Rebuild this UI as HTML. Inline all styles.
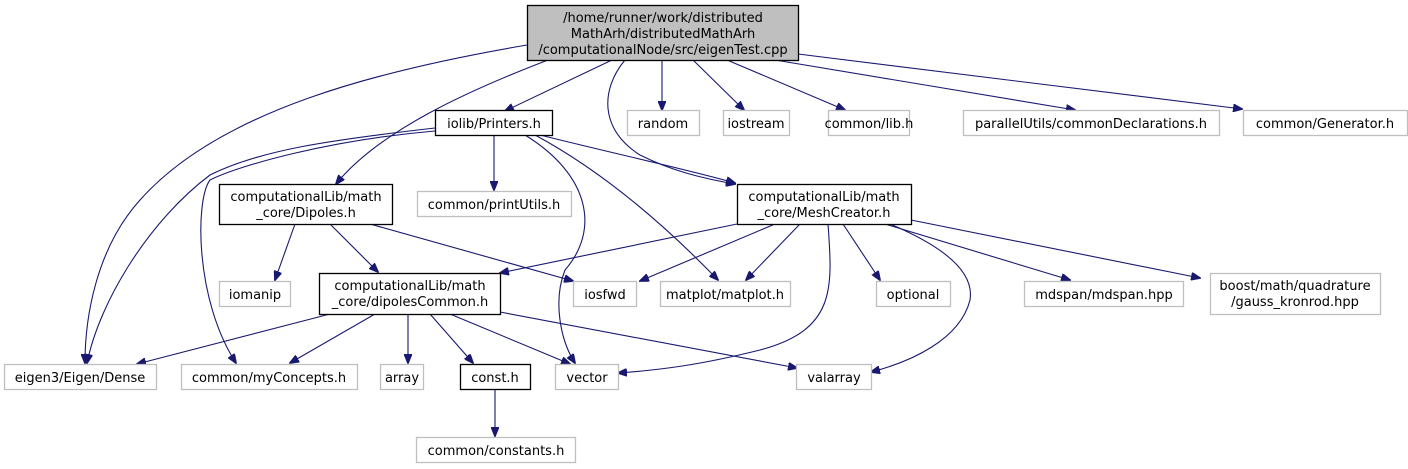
<!DOCTYPE html>
<html><head><meta charset="utf-8">
<style>
html,body{margin:0;padding:0;background:#fff;}
svg{display:block;}
text{font-family:"DejaVu Sans","Liberation Sans",sans-serif;font-size:13px;fill:#000;text-anchor:middle;}
.g{fill:#fff;stroke:#bfbfbf;stroke-width:1.3;}
.b{fill:#fff;stroke:#000;stroke-width:1.3;}
.e{fill:none;stroke:#191970;stroke-width:1.1;}
</style></head>
<body>
<svg width="1408" height="469" viewBox="0 0 1408 469" xmlns="http://www.w3.org/2000/svg">
<defs>
<marker id="a" markerWidth="10" markerHeight="8" refX="9" refY="4" orient="auto" markerUnits="userSpaceOnUse">
<path d="M0,0 L10,4 L0,8 Z" fill="#191970" stroke="#191970"/>
</marker>
</defs>
<g marker-end="url(#a)">
<path class="e" d="M527,45 C380,70 220,110 140,200 C95,250 85,320 85,363"/>
<path class="e" d="M548,60 C470,90 380,130 336,184"/>
<path class="e" d="M612,60 L505,111"/>
<path class="e" d="M625,60 C600,90 600,130 640,155 C670,170 700,178 735,184"/>
<path class="e" d="M662,60 L662,110"/>
<path class="e" d="M693,60 L744,110"/>
<path class="e" d="M727,60 L845,110"/>
<path class="e" d="M775,60 L1075,110"/>
<path class="e" d="M798,54 L1242,109"/>
<path class="e" d="M435,128 C330,140 260,150 210,175 C150,220 100,300 87,363"/>
<path class="e" d="M435,131 C330,140 240,165 210,180 C195,200 195,300 236,363"/>
<path class="e" d="M494,135 L494,190"/>
<path class="e" d="M525,135 C590,175 600,230 565,270 C553,300 560,340 575,363"/>
<path class="e" d="M535,135 C600,170 660,220 718,280"/>
<path class="e" d="M540,135 C620,155 690,170 735,183"/>
<path class="e" d="M295,224 L275,280"/>
<path class="e" d="M330,224 L378,272"/>
<path class="e" d="M370,224 L573,281"/>
<path class="e" d="M737,224 L500,273"/>
<path class="e" d="M775,224 L640,281"/>
<path class="e" d="M800,224 L746,280"/>
<path class="e" d="M828,224 C833,290 835,330 760,350 C700,365 660,370 618,373"/>
<path class="e" d="M843,224 L880,280"/>
<path class="e" d="M890,224 C940,245 975,270 970,300 C960,340 910,362 871,372"/>
<path class="e" d="M885,224 L1070,280"/>
<path class="e" d="M911,220 L1200,278"/>
<path class="e" d="M330,314 L137,364"/>
<path class="e" d="M375,314 L290,363"/>
<path class="e" d="M408,314 L408,363"/>
<path class="e" d="M430,314 L473,363"/>
<path class="e" d="M450,314 L570,364"/>
<path class="e" d="M500,312 L797,368"/>
<path class="e" d="M495,389 L495,436"/>
</g>
<rect x="527.5" y="5.5" width="271" height="55" fill="#bfbfbf" stroke="#000" stroke-width="1.3"/>
<text x="663" y="22">/home/runner/work/distributed</text>
<text x="663" y="38">MathArh/distributedMathArh</text>
<text x="663" y="54">/computationalNode/src/eigenTest.cpp</text>

<rect class="b" x="435.5" y="110.5" width="117" height="25"/><text x="494" y="128">iolib/Printers.h</text>
<rect class="g" x="627.5" y="110.5" width="72" height="25"/><text x="663" y="128">random</text>
<rect class="g" x="723.5" y="110.5" width="66" height="25"/><text x="756" y="128">iostream</text>
<rect class="g" x="828.5" y="110.5" width="81" height="25"/><text x="869" y="128">common/lib.h</text>
<rect class="g" x="963.5" y="110.5" width="256" height="25"/><text x="1091" y="128">parallelUtils/commonDeclarations.h</text>
<rect class="g" x="1243.5" y="110.5" width="164" height="25"/><text x="1325" y="128">common/Generator.h</text>

<rect class="b" x="219.5" y="184.5" width="173" height="40"/><text x="306" y="201">computationalLib/math</text><text x="306" y="217">_core/Dipoles.h</text>
<rect class="g" x="417.5" y="191.5" width="154" height="25"/><text x="494" y="209">common/printUtils.h</text>
<rect class="b" x="737.5" y="184.5" width="174" height="40"/><text x="824" y="201">computationalLib/math</text><text x="824" y="217">_core/MeshCreator.h</text>

<rect class="g" x="219.5" y="281.5" width="71" height="25"/><text x="255" y="299">iomanip</text>
<rect class="b" x="319.5" y="273.5" width="181" height="41"/><text x="410" y="290">computationalLib/math</text><text x="410" y="306">_core/dipolesCommon.h</text>
<rect class="g" x="573.5" y="281.5" width="63" height="25"/><text x="605" y="299">iosfwd</text>
<rect class="g" x="660.5" y="281.5" width="130" height="25"/><text x="725" y="299">matplot/matplot.h</text>
<rect class="g" x="876.5" y="281.5" width="74" height="25"/><text x="913" y="299">optional</text>
<rect class="g" x="1024.5" y="281.5" width="159" height="25"/><text x="1104" y="299">mdspan/mdspan.hpp</text>
<rect class="g" x="1210.5" y="273.5" width="170" height="41"/><text x="1295" y="290">boost/math/quadrature</text><text x="1295" y="306">/gauss_kronrod.hpp</text>

<rect class="g" x="4.5" y="364.5" width="152" height="25"/><text x="80" y="382">eigen3/Eigen/Dense</text>
<rect class="g" x="181.5" y="364.5" width="176" height="25"/><text x="269" y="382">common/myConcepts.h</text>
<rect class="g" x="380.5" y="364.5" width="43" height="25"/><text x="402" y="382">array</text>
<rect class="b" x="460.5" y="364.5" width="70" height="25"/><text x="495" y="382">const.h</text>
<rect class="g" x="555.5" y="364.5" width="63" height="25"/><text x="587" y="382">vector</text>
<rect class="g" x="796.5" y="364.5" width="75" height="25"/><text x="834" y="382">valarray</text>

<rect class="g" x="416.5" y="437.5" width="159" height="25"/><text x="496" y="455">common/constants.h</text>
</svg>
</body></html>
